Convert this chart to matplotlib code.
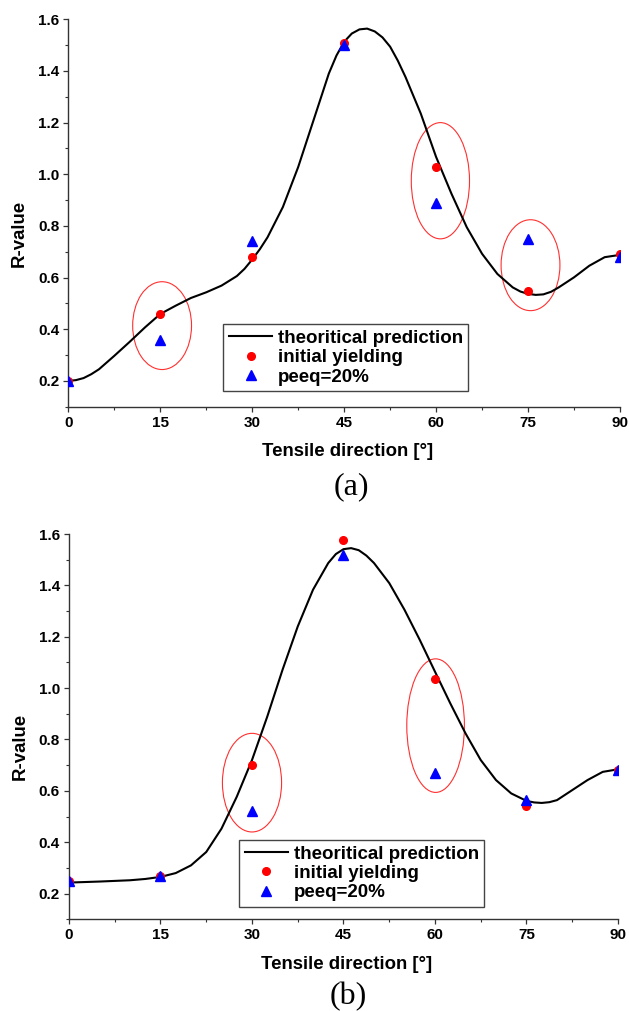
import matplotlib
matplotlib.use('Agg')
import matplotlib.pyplot as plt
import matplotlib.ticker as ticker
from matplotlib.patches import Ellipse

# measured points, tensile direction in degrees
angles = [0, 15, 30, 45, 60, 75, 90]

initial_a = [0.20, 0.46, 0.68, 1.51, 1.03, 0.55, 0.69]
peeq_a = [0.20, 0.36, 0.74, 1.50, 0.89, 0.75, 0.68]
initial_b = [0.25, 0.27, 0.70, 1.575, 1.035, 0.54, 0.68]
peeq_b = [0.25, 0.27, 0.52, 1.52, 0.67, 0.565, 0.68]

# theoretical curves (denser near the bends)
curve_a_x = [0, 1.25, 2.5, 3.75, 5, 7.5, 10, 12.5, 15, 17.5, 20, 22.5, 25,
             27.5, 28.75, 30, 31.25, 32.5, 35, 37.5, 40, 42.5, 43.75, 45,
             46.25, 47.5, 48.75, 50, 51.25, 52.5, 53.75, 55, 57.5, 60, 62.5,
             65, 67.5, 70, 72.5, 73.75, 75, 76.25, 77.5, 78.75, 80, 82.5, 85,
             87.5, 90]
curve_a = [0.200, 0.203, 0.211, 0.226, 0.245, 0.297, 0.351, 0.407, 0.459,
           0.491, 0.521, 0.543, 0.569, 0.606, 0.634, 0.670, 0.710, 0.756,
           0.873, 1.028, 1.209, 1.390, 1.460, 1.513, 1.545, 1.561, 1.564,
           1.553, 1.530, 1.494, 1.440, 1.377, 1.235, 1.067, 0.925, 0.795,
           0.692, 0.614, 0.562, 0.546, 0.537, 0.533, 0.535, 0.545, 0.562,
           0.601, 0.646, 0.679, 0.688]

curve_b_x = [0, 5, 10, 12.5, 15, 17.5, 20, 22.5, 25, 27.5, 30, 32.5, 35,
             37.5, 40, 42.5, 43.75, 45, 46.25, 47.5, 48.75, 50, 52.5, 55,
             57.5, 60, 62.5, 65, 67.5, 70, 72.5, 75, 76.25, 77.5, 78.75, 80,
             82.5, 85, 87.5, 90]
curve_b = [0.243, 0.247, 0.252, 0.257, 0.265, 0.280, 0.310, 0.362, 0.453,
           0.577, 0.720, 0.889, 1.071, 1.240, 1.383, 1.487, 1.522, 1.541,
           1.545, 1.537, 1.516, 1.487, 1.409, 1.305, 1.188, 1.064, 0.941,
           0.824, 0.720, 0.642, 0.590, 0.561, 0.555, 0.553, 0.556, 0.564,
           0.603, 0.642, 0.674, 0.684]

# highlight ellipses: (centre x, centre y, width, height)
rings_a = [(15.3, 0.414, 9.6, 0.34), (60.7, 0.975, 9.5, 0.45), (75.4, 0.648, 9.6, 0.352)]
rings_b = [(30.0, 0.632, 9.7, 0.384), (60.1, 0.854, 9.45, 0.52)]

xticks = [0, 15, 30, 45, 60, 75, 90]
yticks = [0.2, 0.4, 0.6, 0.8, 1.0, 1.2, 1.4, 1.6]

SANS = 'Liberation Sans'
SERIF = 'Liberation Serif'

fig = plt.figure(figsize=(6.29, 10.11), dpi=100)
ax_a = fig.add_axes([0.1086, 0.5977, 0.8771, 0.3832])
ax_b = fig.add_axes([0.1097, 0.0907, 0.8728, 0.3811])


def draw_panel(ax, cx_vals, curve, initial, peeq, rings, legend_anchor):
    ax.plot(cx_vals, curve, color='black', lw=1.5, solid_joinstyle='round',
            label='theoritical prediction', zorder=3)
    ax.plot(angles, initial, 'o', color='#ff0000', ms=5.5, mec='#ff0000',
            label='initial yielding', zorder=4)
    ax.plot(angles, peeq, '^', color='#0000ff', ms=6.5, mec='#0000ff',
            label='peeq=20%', zorder=5)

    for cx, cy, w, h in rings:
        ax.add_patch(Ellipse((cx, cy), w, h, fill=False, ec='#ff3030', lw=0.8, zorder=2))

    ax.set_xlim(0, 90)
    ax.set_ylim(0.1, 1.6)
    ax.set_xticks(xticks)
    ax.set_yticks(yticks)
    ax.xaxis.set_minor_locator(ticker.MultipleLocator(7.5))
    ax.yaxis.set_minor_locator(ticker.MultipleLocator(0.1))
    ax.yaxis.set_major_formatter(ticker.FormatStrFormatter('%.1f'))

    for side in ['top', 'right']:
        ax.spines[side].set_visible(False)
    for side in ['left', 'bottom']:
        ax.spines[side].set_color('#333333')
        ax.spines[side].set_linewidth(1.0)

    ax.tick_params(which='major', direction='out', length=3.5, width=0.9,
                   color='#333333', pad=3)
    ax.tick_params(which='minor', direction='out', length=2, width=0.8,
                   color='#333333')
    for lab in ax.get_xticklabels() + ax.get_yticklabels():
        lab.set_fontfamily(SANS)
        lab.set_fontweight('bold')
        lab.set_fontsize(11)

    ax.set_xlabel('Tensile direction [°]', fontfamily=SANS, fontweight='bold', fontsize=13.4)
    ax.set_ylabel('R-value', fontfamily=SANS, fontweight='bold', fontsize=13.4)
    ax.xaxis.set_label_coords(0.506, -0.094)
    ax.yaxis.set_label_coords(-0.074, 0.448)

    leg = ax.legend(loc='lower left', bbox_to_anchor=legend_anchor, borderaxespad=0,
                    frameon=True, fancybox=False, framealpha=1, edgecolor='#444444',
                    prop={'family': SANS, 'weight': 'bold', 'size': 13.5},
                    handlelength=2.3, handletextpad=0.3, labelspacing=0.12,
                    borderpad=0.3, numpoints=1)
    leg.get_frame().set_linewidth(1.0)


draw_panel(ax_a, curve_a_x, curve_a, initial_a, peeq_a, rings_a, (0.281, 0.04))
draw_panel(ax_b, curve_b_x, curve_b, initial_b, peeq_b, rings_b, (0.310, 0.032))

fig.text(351.7 / 629, 1 - 487 / 1011, '(a)', family=SERIF, fontsize=23, ha='center', va='center')
fig.text(348 / 629, 1 - 997 / 1011, '(b)', family=SERIF, fontsize=23, ha='center', va='center')

fig.savefig('out.png', dpi=100, facecolor='white')
